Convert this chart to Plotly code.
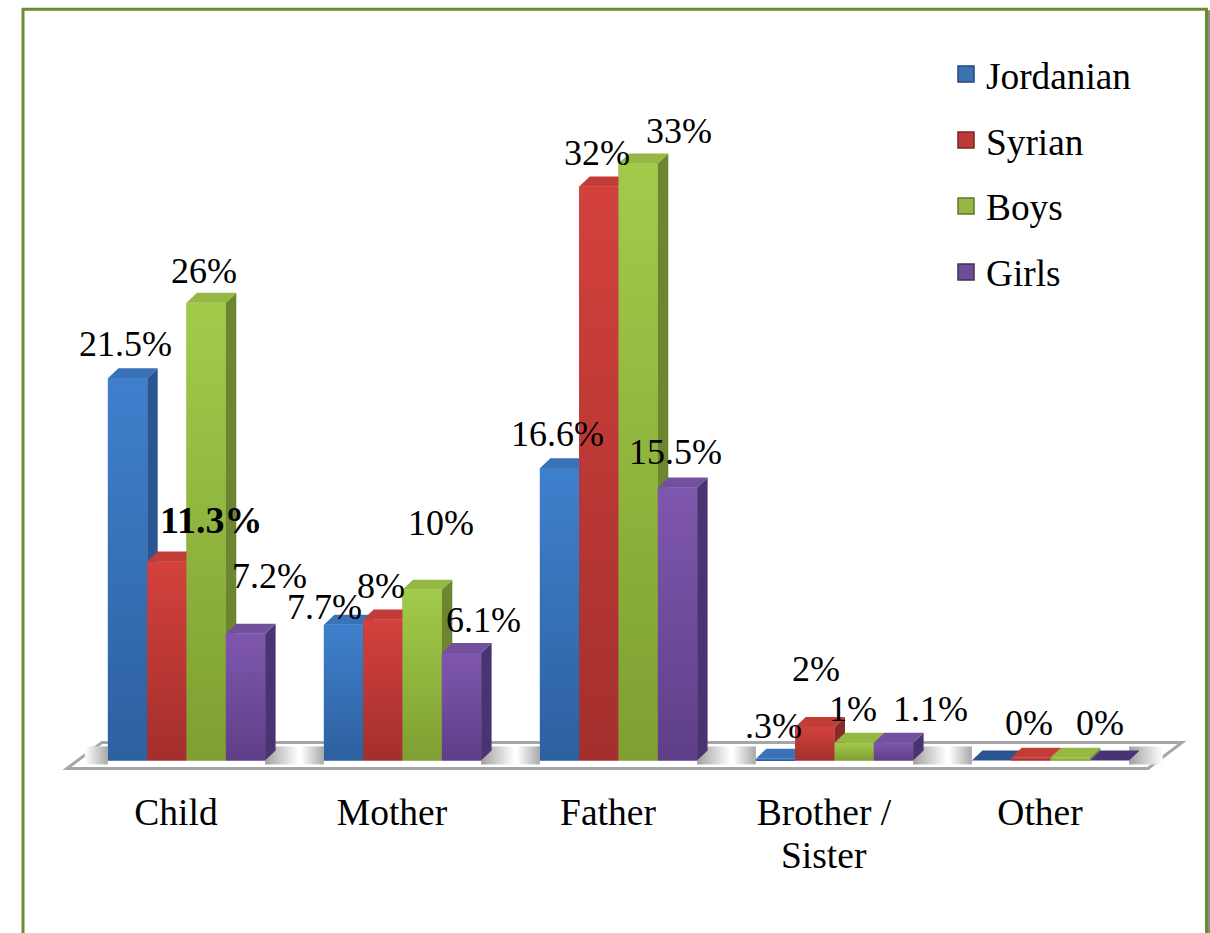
import plotly.graph_objects as go

# ---------- data ----------
categories = ["Child", "Mother", "Father", "Brother /", "Other"]
series_names = ["Jordanian", "Syrian", "Boys", "Girls"]
jordanian = [21.7, 7.7, 16.6, 0.1, 0.0]
syrian = [11.3, 8.0, 32.6, 1.9, 0.15]
boys = [26.0, 9.7, 33.9, 1.0, 0.15]
girls = [7.2, 6.1, 15.5, 1.0, 0.0]
jordanian_labels = ["21.5%", "7.7%", "16.6%", ".3%", ""]
syrian_labels = ["<b>11.3%</b>", "8%", "32%", "2%", "0%"]
boys_labels = ["26%", "10%", "33%", "1%", "0%"]
girls_labels = ["7.2%", "6.1%", "15.5%", "1.1%", ""]

# ---------- styles / layout ----------
values = [jordanian, syrian, boys, girls]
labels = [jordanian_labels, syrian_labels, boys_labels, girls_labels]
front_top = ["#3f80cd", "#d3413d", "#a2cb4a", "#7f57ae"]
front_bot = ["#2d609f", "#a32f2c", "#7f9f32", "#5f3f88"]
top_col = ["#3a72b8", "#c23c38", "#94b843", "#73509e"]
side_col = ["#2a5590", "#8a2b28", "#6b8530", "#4a3372"]
legend_col = ["#3a72b5", "#bd3a36", "#94b843", "#6f4e98"]
legend_edge = ["#24497c", "#7a2422", "#5f7a28", "#41305f"]

# label centre offsets in pixels from the top-front-centre of each bar
label_dx = [[-2, -19, -2, -2, 0], [44, -2, -2, 1, -2], [-2, 19, 41, -1, 30], [24, 22, -2, 37, 0]]
label_dy = [[-34, -18, -34, -33, 0], [-41, -34, -33, -58, -35], [-32, -67, -33, -34, -35], [-58, -33, -36, -34, 0]]

PX_X = 216.0      # pixels per category
PX_Y = 17.6       # pixels per percent
X0_PX, Y0_PX = 78.5, 760.0
LEFT, RIGHT = 60.0, 1190.0
TOP = 760.0 - 42 * PX_Y
BOTTOM = 760.0 + PX_Y
BAR_W = 39.3 / PX_X
DX = 10.5 / PX_X
DY = 10.0 / PX_Y
FONT = "Liberation Serif"
N = len(series_names)


def xd(px):
    return (px - X0_PX) / PX_X


def yd(py):
    return (Y0_PX - py) / PX_Y


def xp(px):
    return (px - LEFT) / (RIGHT - LEFT)


def yp(py):
    return (BOTTOM - py) / (BOTTOM - TOP)


def bar_x(i, j):
    return i + 0.5 + (j - (N - 1) / 2) * BAR_W


def poly(xs, ys, **kw):
    return go.Scatter(x=xs, y=ys, mode="lines", fill="toself", line=dict(width=0),
                      hoverinfo="skip", showlegend=False, **kw)


fig = go.Figure()

# real bars (front faces)
for j, name in enumerate(series_names):
    fig.add_trace(go.Bar(x=[bar_x(i, j) for i in range(len(categories))], y=values[j],
                         width=BAR_W, name=name, marker=dict(color=front_bot[j], line=dict(width=0)),
                         showlegend=False))

# soft shadows on the floor
for i in range(len(categories)):
    xl = bar_x(i, 0) - BAR_W / 2
    xr = bar_x(i, N - 1) + BAR_W / 2 + DX
    y0, y1 = yd(764), yd(746)
    w = 23 / PX_X
    fig.add_trace(poly([xl - w, xl, xl, xl - w, xl - w], [y0, y0, y1, y1, y0],
                       fillgradient=dict(type="horizontal", colorscale=[[0, "#ffffff"], [1, "#a8a8a8"]])))
    fig.add_trace(poly([xr - DX, xr + w, xr + w, xr - DX, xr - DX], [y0, y0, y1, y1, y0],
                       fillgradient=dict(type="horizontal", colorscale=[[0, "#a0a0a0"], [1, "#ffffff"]])))

# 3-D faces, painted left to right
for i in range(len(categories)):
    for j in range(N):
        v = values[j][i]
        x = bar_x(i, j)
        xa, xb = x - BAR_W / 2, x + BAR_W / 2
        if v > 0:
            fig.add_trace(poly([xb, xb + DX, xb + DX, xb, xb], [0, DY, v + DY, v, 0], fillcolor=side_col[j]))
        fig.add_trace(poly([xa, xa + DX, xb + DX, xb, xa], [v, v + DY, v + DY, v, v],
                           fillcolor=top_col[j] if v > 0 else side_col[j]))
        if v > 0:
            fig.add_trace(poly([xa, xb, xb, xa, xa], [0, 0, v, v, 0],
                               fillgradient=dict(type="vertical", colorscale=[[0, front_bot[j]], [1, front_top[j]]])))

# legend entries
for j, name in enumerate(series_names):
    fig.add_trace(go.Scatter(x=[None], y=[None], mode="markers", name=name, legendgroup=name,
                             marker=dict(symbol="square", size=16, color=legend_col[j],
                                         line=dict(width=1.5, color=legend_edge[j]))))

# data labels
annotations = []
for j in range(N):
    for i in range(len(categories)):
        if labels[j][i]:
            annotations.append(dict(x=bar_x(i, j), y=values[j][i], text=labels[j][i], showarrow=False,
                                    xshift=label_dx[j][i], yshift=-label_dy[j][i],
                                    xanchor="center", yanchor="middle",
                                    font=dict(family=FONT, size=38 if "<b>" in labels[j][i] else 36, color="black")))
# second line of the fourth category
annotations.append(dict(x=3.5 - 10.5 / PX_X, y=yp(855), yref="paper", text="Sister", showarrow=False,
                        xanchor="center", yanchor="middle",
                        font=dict(family=FONT, size=37.5, color="black")))

GREEN = "#6c8c30"
shapes = [
    # floor
    dict(type="path", xref="paper", yref="paper", layer="below",
         path=f"M{xp(67)},{yp(768)} L{xp(102)},{yp(742)} L{xp(1182)},{yp(742)} L{xp(1148)},{yp(768)} Z",
         fillcolor="white", line=dict(color="#a6a6a6", width=3)),
    # page frame
    dict(type="line", xref="paper", yref="paper", x0=xp(23), x1=xp(23), y0=yp(8), y1=yp(933),
         line=dict(color=GREEN, width=3), layer="below"),
    dict(type="line", xref="paper", yref="paper", x0=xp(22), x1=xp(1208), y0=yp(9), y1=yp(9),
         line=dict(color=GREEN, width=3), layer="below"),
    dict(type="line", xref="paper", yref="paper", x0=xp(1206.5), x1=xp(1206.5), y0=yp(8), y1=yp(933),
         line=dict(color=GREEN, width=3), layer="below"),
    dict(type="line", xref="paper", yref="paper", x0=xp(1209), x1=xp(1209), y0=yp(10), y1=yp(933),
         line=dict(color="#8c8c8c", width=2), layer="below"),
]

fig.update_layout(
    width=1210, height=933, autosize=False,
    margin=dict(l=LEFT, r=1210 - RIGHT, t=TOP, b=933 - BOTTOM, pad=0),
    paper_bgcolor="white", plot_bgcolor="rgba(0,0,0,0)",
    barmode="overlay", annotations=annotations, shapes=shapes,
    font=dict(family=FONT, size=36, color="black"),
    xaxis=dict(range=[xd(LEFT), xd(RIGHT)], tickmode="array",
               tickvals=[i + 0.5 - 10.5 / PX_X for i in range(len(categories))],
               ticktext=categories, showgrid=False, zeroline=False, showline=False,
               ticks="", tickangle=0, tickfont=dict(family=FONT, size=37.5, color="black"),
               ticklabelstandoff=8),
    yaxis=dict(range=[-1, 42], visible=False, showgrid=False, zeroline=False),
    legend=dict(x=xp(946), y=yp(43), xanchor="left", yanchor="top", tracegroupgap=14.5,
                bgcolor="rgba(0,0,0,0)", font=dict(family=FONT, size=37.3, color="black")),
    showlegend=True,
)

fig.write_html("out.html", default_width="1210px", default_height="933px",
               config={"displayModeBar": False},
               post_script="document.body.style.margin='0';document.documentElement.style.overflow='hidden';")
